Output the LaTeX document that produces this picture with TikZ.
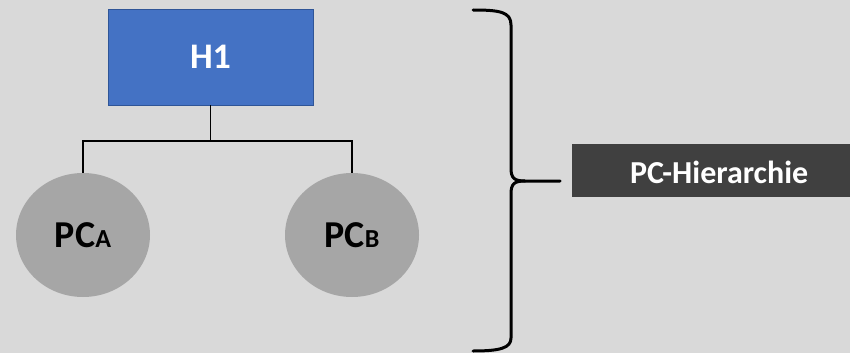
\documentclass[tikz,border=0pt]{standalone}
\usepackage{fontspec}
\setmainfont{Carlito}
\usetikzlibrary{shapes.geometric}
\definecolor{bg}{HTML}{D9D9D9}
\definecolor{hblue}{HTML}{4472C4}
\definecolor{hblueborder}{HTML}{2F5597}
\definecolor{pcgray}{HTML}{A6A6A6}
\definecolor{darkbox}{HTML}{404040}
\tikzset{
  h1box/.style={rectangle, fill=hblue, draw=hblueborder, line width=0.8pt, minimum width=205pt, minimum height=96pt, text=white, font=\bfseries\fontsize{36}{36}\selectfont},
  pcnode/.style={ellipse, fill=pcgray, minimum width=134pt, minimum height=124pt, inner sep=0pt, text=black, font=\bfseries},
  conn/.style={draw=black, line width=1.3pt},
  bracestyle/.style={draw=black, line width=3pt, line cap=round},
  labelbox/.style={rectangle, fill=darkbox, minimum height=53pt, minimum width=278pt, inner sep=0pt, outer sep=0pt}
}
\newcommand{\pclabel}[1]{{\fontsize{38}{38}\selectfont PC}{\fontsize{26}{26}\selectfont #1}}
\begin{document}
\begin{tikzpicture}[x=1pt,y=-1pt]
\fill[bg] (0,0) rectangle (850,353);
\path[use as bounding box] (0,0) rectangle (850,353);
\node[labelbox] (pch) at (711,170.5) {};
\node[text=white, font=\bfseries\fontsize{32}{32}\selectfont, anchor=west, inner sep=0pt] (pchtext) at (630,172) {PC-Hierarchie};
\node[h1box] (h1) at (210.5,57) {H1};
\node[pcnode] (pca) at (83,235) {\pclabel{A}};
\node[pcnode] (pcb) at (352,235) {\pclabel{B}};
\coordinate (bus) at (210.5,141);
\draw[conn] (h1.south) -- (bus);
\draw[conn] (pca.north) |- (bus) -| (pcb.north);
\coordinate (tip) at (560,181);
\draw[bracestyle] (473,10) .. controls (500,10) and (511,12) .. (511,25) -- (511,168) .. controls (511,178) and (514,181) .. (525,181) -- (tip);
\draw[bracestyle] (525,181) .. controls (514,181) and (511,184) .. (511,194) -- (511,338) .. controls (511,348) and (500,351) .. (473,351);
\end{tikzpicture}
\end{document}
